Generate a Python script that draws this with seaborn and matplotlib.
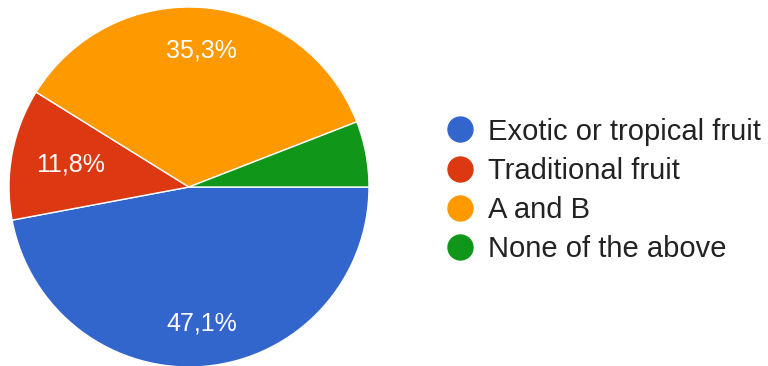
import matplotlib
matplotlib.use("Agg")
import matplotlib.pyplot as plt
from matplotlib.lines import Line2D
import seaborn as sns

categories = ["Exotic or tropical fruit", "Traditional fruit", "A and B", "None of the above"]
values = [47.1, 11.8, 35.3, 5.9]
colors = ["#3366cc", "#dc3912", "#ff9900", "#109618"]

sns.set_theme(style="white")
plt.rcParams["font.family"] = ["Liberation Sans", "DejaVu Sans"]
palette = sns.color_palette(colors)

fig = plt.figure(figsize=(7.68, 3.66), dpi=100)
ax = fig.add_axes([9 / 768, -1 / 366, 360 / 768, 360 / 366])

def fmt(p):
    return ("%.1f%%" % p).replace(".", ",") if p > 8 else ""

wedges, texts, autotexts = ax.pie(
    values, colors=palette, startangle=0, counterclock=False,
    autopct=fmt, pctdistance=0.76,
    wedgeprops=dict(edgecolor="white", linewidth=1),
    textprops=dict(color="white", fontsize=18),
)
# pull the small-slice label slightly inward, as in the reference
x, y = autotexts[1].get_position()
autotexts[1].set_position((x * 0.88, y * 0.88))
ax.set_xlim(-1, 1)
ax.set_ylim(-1, 1)
ax.set_aspect("equal")
ax.axis("off")

handles = [Line2D([0], [0], marker="o", linestyle="", markersize=18,
                  markerfacecolor=c, markeredgecolor=c) for c in palette]
fig.legend(handles, categories, loc="center left", bbox_to_anchor=(0.565, 0.48),
           frameon=False, fontsize=21, handletextpad=0.45, labelspacing=0.38,
           borderaxespad=0, handlelength=1.0, labelcolor="#222222")

fig.savefig("out.png", dpi=100)
